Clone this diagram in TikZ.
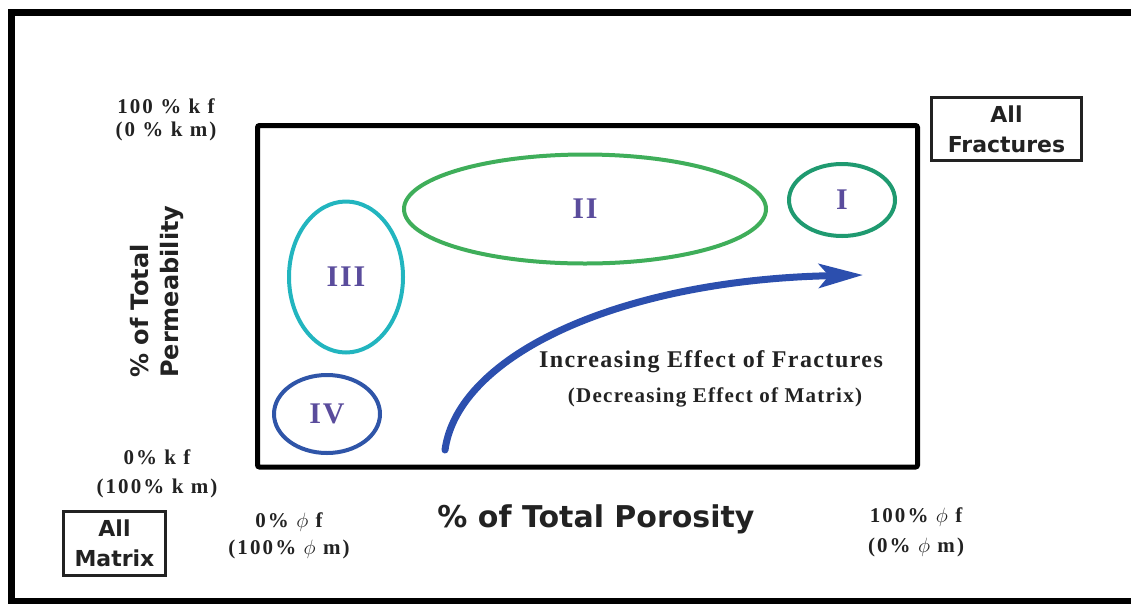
\documentclass[tikz,border=0pt]{standalone}
\usepackage{fontspec}
\setmainfont{Liberation Serif}
\newfontfamily\sansbold{DejaVu Sans}
\newfontfamily\tickserif{Liberation Serif}[LetterSpace=10]
\newfontfamily\effectserif{Liberation Serif}[LetterSpace=6]
\newfontfamily\zoneserif{Liberation Serif}[LetterSpace=6]
\usetikzlibrary{arrows.meta,positioning,shapes.geometric}
\definecolor{fcGreen}{HTML}{3FAE5A}
\definecolor{fcTeal}{HTML}{1F9A70}
\definecolor{fcCyan}{HTML}{22B5BF}
\definecolor{fcBlue}{HTML}{2F55A8}
\definecolor{fcArrow}{HTML}{2C4FAE}
\definecolor{fcPurple}{HTML}{5A4C9C}
\definecolor{fcInk}{HTML}{222222}

\begin{document}
\begin{tikzpicture}[x=1pt,y=-1pt,
    pctlabel/.style={inner sep=0pt, align=center, text=fcInk,
      font=\tickserif\bfseries\fontsize{21}{#1}\selectfont},
    pctlabel/.default=23,
    zone/.style={ellipse, line width=4pt, inner sep=0pt, text=fcPurple,
      font=\zoneserif\bfseries\fontsize{30}{30}\selectfont},
    endbox/.style={draw=fcInk, line width=2.5pt, align=center, inner sep=0pt,
      text=fcInk, font=\sansbold\bfseries\fontsize{22}{30}\selectfont},
    axislabel/.style={inner sep=0pt, text=fcInk, font=\sansbold\bfseries\fontsize{#1}{#1}\selectfont},
    axislabel/.default=30,
    effect/.style={inner sep=0pt, text=fcInk, font=\effectserif\bfseries\fontsize{#1}{#1}\selectfont},
    effect/.default=24]
  \useasboundingbox (0,0) rectangle (1131,603);
  \clip (0,0) rectangle (1131,603);
  % frame (runs off on the right)
  \draw[line width=7pt] (1140,12) -- (11.5,12) -- (11.5,601) -- (1140,601);
  \draw[line width=5pt, rounded corners=2pt] (257.5,125.5) rectangle (917.5,467);

  % regions
  \node[zone, draw=fcGreen, minimum width=362pt, minimum height=109pt] (zoneII) at (585,209) {II};
  \node[zone, draw=fcTeal, minimum width=106pt, minimum height=72pt] (zoneI) at (842,200) {I};
  \node[zone, draw=fcCyan, minimum width=114pt, minimum height=151pt] (zoneIII) at (346,277) {III};
  \node[zone, draw=fcBlue, minimum width=106pt, minimum height=78pt] (zoneIV) at (327,414) {IV};

  % trend arrow
  \coordinate (flowStart) at (445,450);
  \coordinate (flowTip) at (863,275);
  \draw[fcArrow, line width=7pt, line cap=round,
    -{Stealth[length=44pt,width=24pt,inset=10pt]}]
    (flowStart) .. controls (458,355) and (620,280) .. (flowTip);
  \node[effect] (effectMain) at (711,362) {Increasing Effect of Fractures};
  \node[effect=21] (effectSub) at (715,397) {(Decreasing Effect of Matrix)};

  % axes
  \node[axislabel] (xLabel) at (596,519) {\% of Total Porosity};
  \node[axislabel=24, rotate=90, anchor=base west] (yLabelA) at (148,378) {\% of Total};
  \node[axislabel=24, rotate=90, anchor=base west] (yLabelB) at (178,378) {Permeability};

  \node[pctlabel] (kfTop) at (166,119.5) {100 \% k f\\(0 \% k m)};
  \node[pctlabel=29] (kfBottom) at (157,473.5) {0\% k f\\(100\% k m)};
  \node[pctlabel=27] (phiLeft) at (289,535.5) {0\% $\phi$ f\\(100\% $\phi$ m)};
  \node[pctlabel=30] (phiRight) at (916,532) {100\% $\phi$ f\\(0\% $\phi$ m)};

  % end members
  \node[endbox, minimum width=150pt, minimum height=63pt] (allFrac) at (1006.5,129) {All\\Fractures};
  \node[endbox, minimum width=102pt, minimum height=64pt] (allMatrix) at (114.5,543.5) {All\\Matrix};
\end{tikzpicture}
\end{document}
